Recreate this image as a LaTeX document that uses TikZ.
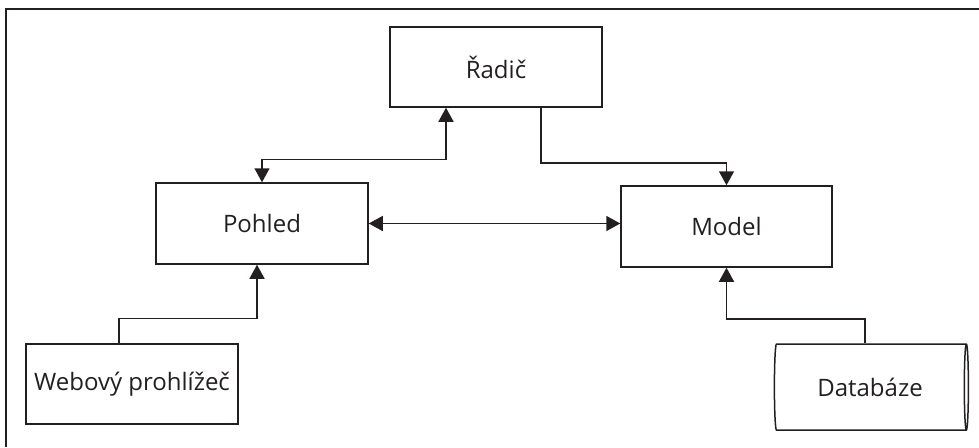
\documentclass[tikz,border=0pt]{standalone}
\usepackage{fontspec}
\setmainfont{Open Sans}
\usetikzlibrary{arrows.meta,shapes.geometric}
\definecolor{cerna}{RGB}{35,31,32}

\tikzset{
  blok/.style={draw, line width=1.5pt, minimum width=212pt, minimum height=80pt, inner sep=0pt},
  spoj/.style={line width=1.5pt, -{Triangle[length=14pt,width=15pt]}},
  spojobe/.style={line width=1.5pt, {Triangle[length=14pt,width=15pt]}-{Triangle[length=14pt,width=15pt]}}
}

\begin{document}
\begin{tikzpicture}[x=1pt, y=-1pt, color=cerna, font=\fontsize{24}{29}\selectfont]
        \useasboundingbox (0,0) rectangle (979,447);
        \draw[line width=1.5pt] (6,447) -- (6,9) -- (979,9); % ramecek
        \node[blok] (radic) at (496,67) {Řadič};
        \node[blok, minimum height=81pt] (pohled) at (262,223.5) {Pohled};
        \node[blok, minimum width=211pt, minimum height=81pt] (model) at (726.5,226.5) {Model};
        \node[blok] (web) at (132,384) {Webový prohlížeč};
        \node[draw, line width=1.5pt, cylinder, shape aspect=0.22, minimum height=194pt, minimum width=86pt, inner sep=0pt] (db) at (870,387) {Databáze};
        % spoje
        \draw[spojobe] (pohled.north) -- ++(0,-23) -| ([xshift=-50pt]radic.south);
        \draw[spoj] ([xshift=45pt]radic.south) -- ++(0,55) -| (model.north);
        \draw[spojobe] (pohled.east) -- (pohled.east -| model.west);
        \draw[spoj] ([xshift=-13pt]web.north) -- ++(0,-25) -| ([xshift=-5pt]pohled.south);
        \draw[spoj] ([xshift=-5pt]db.north) -- ++(0,-24) -| (model.south);
    \end{tikzpicture}
\end{document}
